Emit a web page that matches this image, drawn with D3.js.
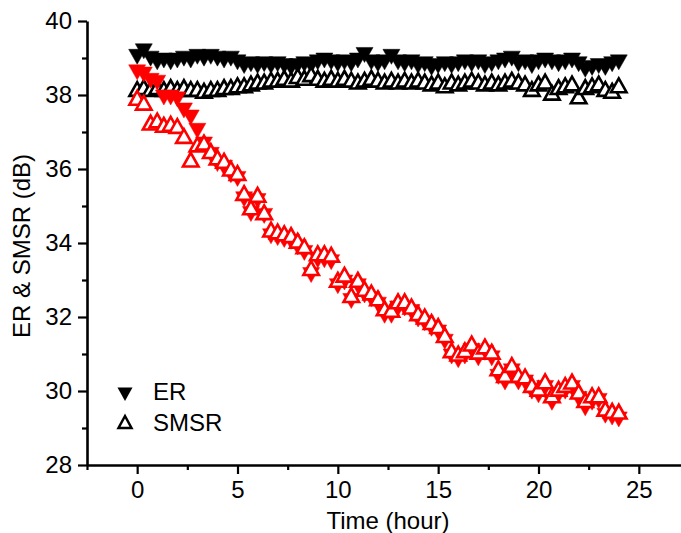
<!DOCTYPE html>
<html><head><meta charset="utf-8">
<script src="https://cdn.jsdelivr.net/npm/d3@7"></script>
<style>
html,body{margin:0;padding:0;background:#fff;}
svg{display:block;}
text{font-family:"Liberation Sans",Arial,sans-serif;fill:#000;}
</style></head>
<body>
<svg id="chart" width="681" height="533"></svg>
<script>
const times = [0,0.33,0.67,1,1.33,1.67,2,2.33,2.67,3,3.33,3.67,4,4.33,4.67,5,5.33,5.67,6,6.33,6.67,7,7.33,7.67,8,8.33,8.67,9,9.33,9.67,10,10.33,10.67,11,11.33,11.67,12,12.33,12.67,13,13.33,13.67,14,14.33,14.67,15,15.33,15.67,16,16.33,16.67,17,17.33,17.67,18,18.33,18.67,19,19.33,19.67,20,20.33,20.67,21,21.33,21.67,22,22.33,22.67,23,23.33,23.67,24];

const blackER = [39.1,39.25,39.05,38.95,39.0,38.95,39.0,39.05,39.0,39.1,39.05,39.1,39.05,39.0,39.05,38.95,38.85,38.9,38.85,38.9,38.85,38.9,38.85,38.8,38.85,38.9,38.85,38.95,39.0,38.95,38.9,38.95,38.9,39.0,39.15,38.95,38.9,38.95,39.1,38.95,38.9,38.95,38.85,38.9,38.8,38.85,38.9,38.85,38.9,38.95,38.9,38.95,38.85,38.9,38.95,39.0,39.05,38.9,38.95,38.85,38.95,39.0,38.95,38.9,38.95,39.0,38.9,38.75,38.8,38.85,38.8,38.9,38.95];

const blackSMSR = [38.1,38.15,38.1,38.15,38.1,38.15,38.1,38.15,38.1,38.1,38.05,38.1,38.1,38.15,38.15,38.2,38.2,38.25,38.3,38.3,38.35,38.35,38.4,38.35,38.45,38.4,38.5,38.4,38.35,38.4,38.35,38.4,38.35,38.3,38.35,38.4,38.35,38.3,38.35,38.3,38.35,38.3,38.35,38.3,38.25,38.3,38.2,38.3,38.25,38.3,38.35,38.3,38.25,38.3,38.25,38.3,38.35,38.3,38.25,38.1,38.25,38.3,38.0,38.15,38.2,38.25,37.9,38.15,38.2,38.25,38.1,38.05,38.2];

const redER = [38.68,38.62,38.45,38.4,38.0,38.0,37.95,37.65,37.46,37.1,36.73,36.45,36.2,36.1,35.9,35.8,35.25,34.85,35.2,34.8,34.25,34.2,34.15,34.1,33.95,33.8,33.2,33.6,33.6,33.55,32.9,33.0,32.5,32.9,32.65,32.55,32.4,32.1,32.1,32.3,32.3,32.2,32.0,31.9,31.75,31.65,31.4,31.0,30.9,31.0,31.15,30.95,31.1,30.95,30.45,30.3,30.6,30.3,30.3,30.05,29.95,30.15,29.75,29.95,30.05,30.15,29.85,29.6,29.75,29.8,29.4,29.35,29.3];

const redSMSR = [37.86,37.73,37.19,37.25,37.13,37.16,37.1,36.83,36.19,36.6,36.65,36.42,36.25,36.16,35.95,35.83,35.29,34.9,35.24,34.77,34.3,34.25,34.2,34.15,34.0,33.85,33.26,33.66,33.66,33.62,32.94,33.08,32.53,32.94,32.7,32.6,32.44,32.17,32.13,32.36,32.36,32.22,32.04,31.95,31.8,31.69,31.45,31.04,30.95,31.04,31.22,31.0,31.14,31.0,30.55,30.37,30.64,30.37,30.33,30.1,30.0,30.2,29.82,30.0,30.1,30.19,29.92,29.69,29.82,29.82,29.46,29.4,29.38];

const xMajorTicks = [0,5,10,15,20,25];
const xMinorTicks = [-2.5,2.5,7.5,12.5,17.5,22.5,27.5];
const yMajorTicks = [28,30,32,34,36,38,40];
const yMinorTicks = [29,31,33,35,37,39];
const legendLabels = ["ER","SMSR"];

const svg = d3.select("#chart");
const x = d3.scaleLinear().domain([-2.5, 27.5]).range([87, 689]);
const y = d3.scaleLinear().domain([28, 40]).range([465, 21]);

const FS = 24;

// axes
const gx = svg.append("g").attr("transform", `translate(0,${y(28)})`);
gx.call(d3.axisBottom(x).tickValues(xMajorTicks).tickSize(9).tickSizeOuter(0).tickPadding(7).tickFormat(d3.format("d")));
const gxm = svg.append("g").attr("transform", `translate(0,${y(28)})`);
gxm.call(d3.axisBottom(x).tickValues(xMinorTicks).tickSize(5).tickSizeOuter(0).tickFormat(""));
gxm.select(".domain").remove();

const gy = svg.append("g").attr("transform", `translate(${x(-2.5)},0)`);
gy.call(d3.axisLeft(y).tickValues(yMajorTicks).tickSize(9).tickSizeOuter(0).tickPadding(6).tickFormat(d3.format("d")));
const gym = svg.append("g").attr("transform", `translate(${x(-2.5)},0)`);
gym.call(d3.axisLeft(y).tickValues(yMinorTicks).tickSize(5).tickSizeOuter(0).tickFormat(""));
gym.select(".domain").remove();

svg.selectAll(".domain").attr("stroke","#000").attr("stroke-width",2.6);
svg.selectAll(".tick line").attr("stroke","#000").attr("stroke-width",2.2);
svg.selectAll(".tick text").attr("font-size",FS).attr("font-family",'"Liberation Sans",Arial,sans-serif').attr("fill","#000");

// axis titles
svg.append("text").attr("x", 388).attr("y", 529).attr("text-anchor","middle").attr("font-size",FS).text("Time (hour)");
svg.append("text").attr("transform","translate(30,246) rotate(-90)").attr("text-anchor","middle").attr("font-size",FS).text("ER & SMSR (dB)");

// markers
const W = 17, H = 15;
const downPath = `M${-W/2},${-H/3}L${W/2},${-H/3}L0,${2*H/3}Z`;
const Wo = 15.5, Ho = 13.8;
const upOpen = `M${-Wo/2},${Ho/3}L${Wo/2},${Ho/3}L0,${-2*Ho/3}Z`;

function drawSeries(vals, color, type){
  const g = svg.append("g");
  g.selectAll("path").data(times.map((t,i)=>[t, vals[i]])).enter().append("path")
    .attr("transform", d=>`translate(${x(d[0])},${y(d[1])})`)
    .attr("d", type==="down" ? downPath : upOpen)
    .attr("fill", type==="down" ? color : "#fff")
    .attr("stroke", color)
    .attr("stroke-width", type==="down" ? 0.5 : 2.6)
    .attr("stroke-linejoin","miter");
}
drawSeries(blackER, "#000", "down");
drawSeries(blackSMSR, "#000", "up");
drawSeries(redER, "#ff0000", "down");
drawSeries(redSMSR, "#ff0000", "up");

// legend
const lg = svg.append("g");
const legW = 15, legH = 13.5;
const legDown = `M${-legW/2},${-legH/3}L${legW/2},${-legH/3}L0,${2*legH/3}Z`;
const legUp = `M${-6.5},${4}L${6.5},${4}L0,${-8}Z`;
lg.append("path").attr("transform","translate(125,392)").attr("d",legDown).attr("fill","#000");
lg.append("path").attr("transform","translate(125,424)").attr("d",legUp).attr("fill","#fff").attr("stroke","#000").attr("stroke-width",2.5);
lg.append("text").attr("x",153).attr("y",400).attr("font-size",FS).text(legendLabels[0]);
lg.append("text").attr("x",153).attr("y",431).attr("font-size",FS).text(legendLabels[1]);
</script>
</body></html>
